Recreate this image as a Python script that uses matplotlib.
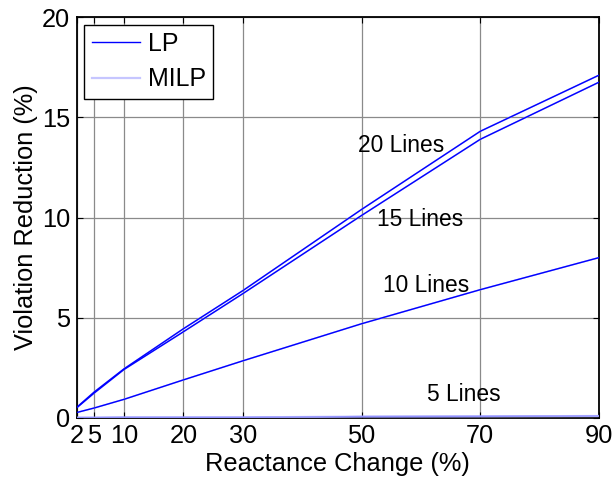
import matplotlib
matplotlib.use("Agg")
import matplotlib.pyplot as plt

plt.rcParams['font.family'] = ['Liberation Sans', 'DejaVu Sans']

x = [2, 5, 10, 20, 30, 50, 70, 90]
xticks = [2, 5, 10, 20, 30, 50, 70, 90]
yticks = [0, 5, 10, 15, 20]

lp_20 = [0.52, 1.30, 2.45, 4.45, 6.35, 10.40, 14.30, 17.10]
lp_15 = [0.50, 1.25, 2.42, 4.30, 6.20, 10.10, 13.90, 16.75]
lp_10 = [0.27, 0.50, 0.93, 1.90, 2.85, 4.70, 6.40, 8.00]
lp_5 = [0.02, 0.02, 0.03, 0.03, 0.03, 0.07, 0.08, 0.10]

milp_20 = lp_20
milp_15 = lp_15
milp_10 = lp_10
milp_5 = lp_5

labels = ['20 Lines', '15 Lines', '10 Lines', '5 Lines']
label_pos = [(56.7, 13.6), (59.9, 9.9), (60.9, 6.6), (67.2, 1.15)]

fig = plt.figure(figsize=(6.13, 4.82), dpi=100)
ax = fig.add_axes([0.1248, 0.1328, 0.9772 - 0.1248, 0.9647 - 0.1328])

blue = (0, 0, 1)
light = (0.72, 0.72, 1.0)

for s in [milp_20, milp_15, milp_10]:
    ax.plot(x, s, color=light, lw=1.2, zorder=2)
l1, = ax.plot(x, lp_20, color=blue, lw=1.0, zorder=3)
ax.plot(x, lp_15, color=blue, lw=1.0, zorder=3)
ax.plot(x, lp_10, color=blue, lw=1.0, zorder=3)
ax.plot(x, lp_5, color=blue, lw=1.0, zorder=3)
l2, = ax.plot(x, milp_5, color=light, lw=1.6, zorder=4, alpha=0.8)

for t, (tx, ty) in zip(labels, label_pos):
    ax.text(tx, ty, t, fontsize=16.4, ha='center', va='center')

ax.set_xlim(2, 90)
ax.set_ylim(0, 20)
ax.set_xticks(xticks)
ax.set_xticklabels([str(v) for v in xticks])
ax.set_yticks(yticks)
ax.grid(True, color='#8a8a8a', lw=0.9)
ax.set_axisbelow(True)
ax.tick_params(direction='in', length=4, top=True, right=True, labelsize=18.3, pad=4.5, width=0.8)
for sp in ax.spines.values():
    sp.set_linewidth(1.3)
ax.set_xlabel('Reactance Change (%)', fontsize=18.3, labelpad=2.5)
ax.set_ylabel('Violation Reduction (%)', fontsize=18.3, labelpad=3)

leg = ax.legend([l1, l2], ['LP', 'MILP'], loc='upper left', fontsize=18,
                fancybox=False, edgecolor='black', framealpha=1,
                borderaxespad=0.3, handlelength=1.95, handletextpad=0.3,
                borderpad=0.3, labelspacing=0.45)
leg.get_frame().set_linewidth(1.0)

fig.savefig('out.png', dpi=100)
